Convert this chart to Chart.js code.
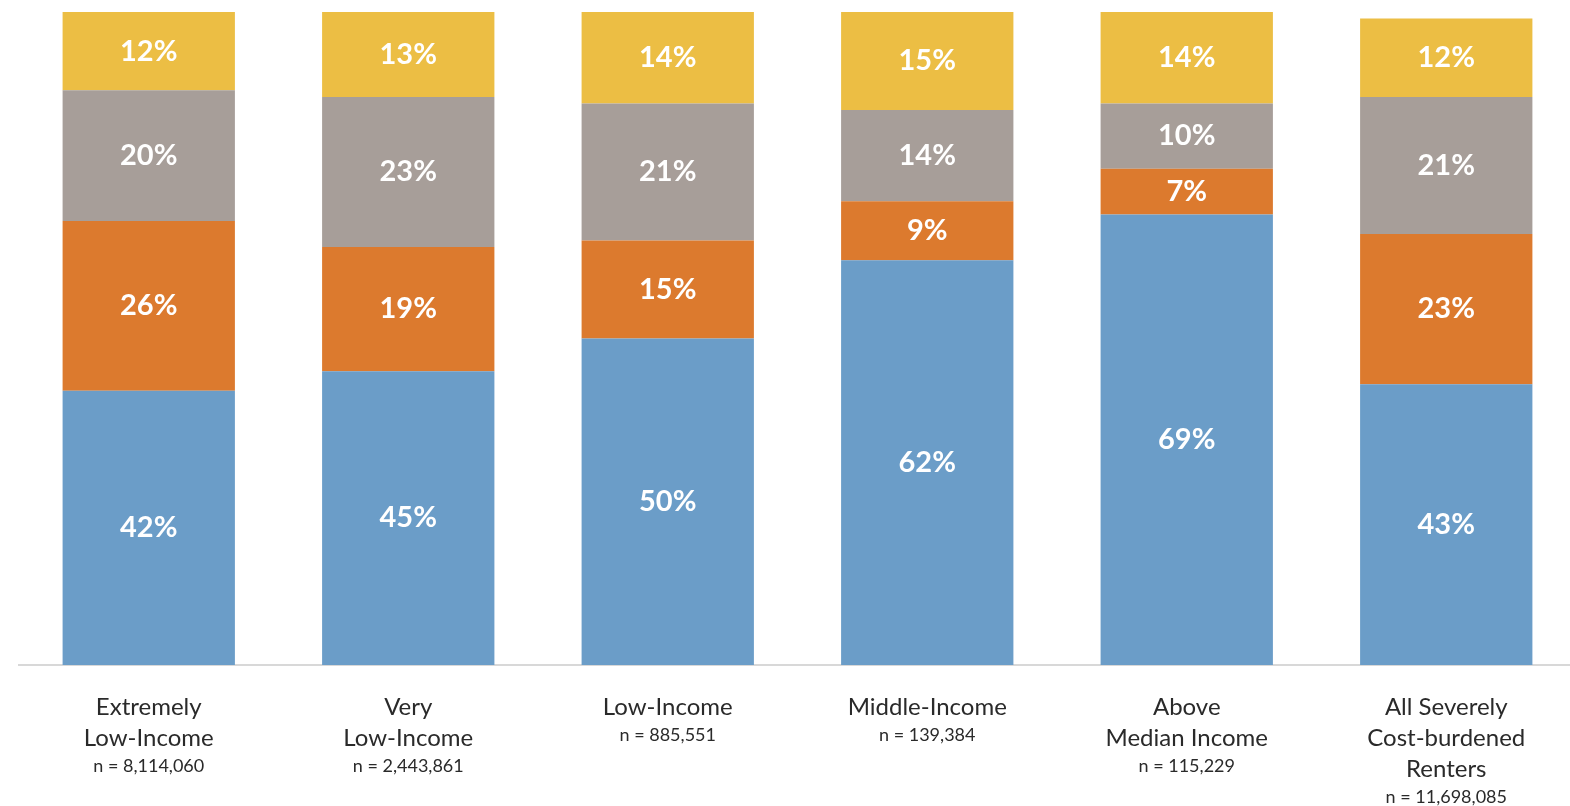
<!DOCTYPE html>
<html>
<head>
<meta charset="utf-8">
<script src="https://cdn.jsdelivr.net/npm/chart.js@4.4.1/dist/chart.umd.min.js"></script>
<style>
  html, body { margin: 0; padding: 0; background: #fff; overflow: hidden; }
  #wrap { width: 1580px; height: 806px; }
</style>
</head>
<body>
<div id="wrap"><canvas id="chart"></canvas></div>
<script>
// income groups (label lines) and sample sizes
const categories = [
    ["Extremely", "Low-Income"],
    ["Very", "Low-Income"],
    ["Low-Income"],
    ["Middle-Income"],
    ["Above", "Median Income"],
    ["All Severely", "Cost-burdened", "Renters"]
]
const sampleSizes = ["n = 8,114,060", "n = 2,443,861", "n = 885,551", "n = 139,384", "n = 115,229", "n = 11,698,085"]

// shares in percent, bottom to top
const blueValues = [42, 45, 50, 62, 69, 43]
const orangeValues = [26, 19, 15, 9, 7, 23]
const grayValues = [20, 23, 21, 14, 10, 21]
const yellowValues = [12, 13, 14, 15, 14, 12]

const FONT = "Lato, 'Open Sans', sans-serif"

// white percent text in the middle of each segment
const segmentLabels = {
    id: "segmentLabels",
    afterDatasetsDraw(chart){
        const ctx = chart.ctx
        ctx.save()
        ctx.fillStyle = "#fff"
        ctx.font = "bold 29px " + FONT
        ctx.textAlign = "center"
        ctx.textBaseline = "middle"
        chart.data.datasets.forEach((ds, i) => {
            chart.getDatasetMeta(i).data.forEach((bar, j) => {
                const mid = (bar.y + bar.base) / 2
                ctx.fillText(ds.data[j] + "%", bar.x, mid)
            })
        })
        ctx.restore()
    }
}

// category names plus a smaller n line under each bar
const groupLabels = {
    id: "groupLabels",
    afterDraw(chart){
        const ctx = chart.ctx
        const x = chart.scales.x
        ctx.save()
        ctx.fillStyle = "#2a2a2a"
        ctx.textAlign = "center"
        ctx.textBaseline = "middle"
        categories.forEach((lines, i) => {
            const cx = x.getPixelForTick(i)
            let y = 707
            ctx.font = "24px " + FONT
            for(let line of lines){
                ctx.fillText(line, cx, y)
                y += 31
            }
            ctx.font = "18px " + FONT
            ctx.fillText(sampleSizes[i], cx, y - 3)
        })
        ctx.restore()
    }
}

const makeSet = (label, data, color) => ({
    label,
    data,
    backgroundColor: color,
    borderWidth: 0,
    barPercentage: 1,
    categoryPercentage: 0.664
})

const chart = new Chart(document.getElementById("chart").getContext("2d"), {
    type: "bar",
    data: {
        labels: categories.map(c => c.join(" ")),
        datasets: [
            makeSet("Blue", blueValues, "#6b9dc8"),
            makeSet("Orange", orangeValues, "#dc7a2e"),
            makeSet("Gray", grayValues, "#a79e99"),
            makeSet("Yellow", yellowValues, "#ecbe44")
        ]
    },
    options: {
        responsive: true,
        maintainAspectRatio: false,
        animation: false,
        layout: {
            padding: { left: 19, right: 4, top: 12, bottom: 141 }
        },
        plugins: {
            legend: { display: false },
            tooltip: { enabled: false }
        },
        scales: {
            x: {
                stacked: true,
                ticks: { display: false },
                grid: { display: false, drawTicks: false },
                border: { display: true, color: "#d8d8d8", width: 2 }
            },
            y: {
                stacked: true,
                display: false,
                min: 0,
                max: 100
            }
        }
    },
    plugins: [segmentLabels, groupLabels]
})
</script>
</body>
</html>
